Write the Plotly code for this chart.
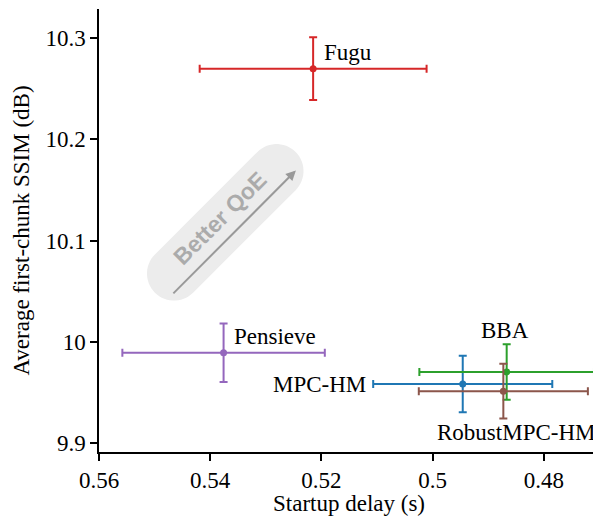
import math
import plotly.graph_objects as go

# startup delay vs first-chunk SSIM, mean +/- error
schemes = ["Fugu", "Pensieve", "MPC-HM", "BBA", "RobustMPC-HM"]
delay = [0.5215, 0.5376, 0.4946, 0.4867, 0.4873]
delay_err = [0.0204, 0.0182, 0.0161, 0.0157, 0.0152]
ssim = [10.270, 9.989, 9.958, 9.970, 9.951]
ssim_err = [0.031, 0.029, 0.028, 0.0275, 0.027]

x_ticks = [0.56, 0.54, 0.52, 0.50, 0.48]
x_ticktext = ["0.56", "0.54", "0.52", "0.5", "0.48"]
y_ticks = [9.9, 10.0, 10.1, 10.2, 10.3]
y_ticktext = ["9.9", "10", "10.1", "10.2", "10.3"]

colors = {"Fugu": "#d62728", "Pensieve": "#9467bd", "MPC-HM": "#1f77b4",
          "BBA": "#2ca02c", "RobustMPC-HM": "#8c564b"}
# label placement relative to the point (pixels)
label_pos = {"Fugu": (9, 16, "left"), "Pensieve": (8, 16, "left"),
             "MPC-HM": (-95, 0, "right"), "BBA": (-2, 41, "center"),
             "RobustMPC-HM": (13, -41, "center")}

serif = "Liberation Serif"
fs = 23

fig = go.Figure()
for i, s in enumerate(schemes):
    c = colors[s]
    fig.add_trace(go.Scatter(
        x=[delay[i]], y=[ssim[i]], mode="markers", name=s,
        marker=dict(color=c, size=7),
        error_x=dict(type="data", array=[delay_err[i]], color=c, thickness=2, width=4),
        error_y=dict(type="data", array=[ssim_err[i]], color=c, thickness=2, width=4),
        showlegend=False,
    ))
    dx, dy, xa = label_pos[s]
    fig.add_annotation(x=delay[i], y=ssim[i], text=s, showarrow=False,
                       xanchor=xa, yanchor="middle", xshift=dx, yshift=dy,
                       font=dict(family=serif, size=fs, color="black"))

# "Better QoE" badge: rounded bar drawn in pixels around an anchor point
L, r, ang = 145.0, 27.0, math.radians(45)
pts = []
for k in range(0, 31):
    t = -math.pi / 2 + math.pi * k / 30
    pts.append((L / 2 + r * math.cos(t), r * math.sin(t)))
for k in range(0, 31):
    t = math.pi / 2 + math.pi * k / 30
    pts.append((-L / 2 + r * math.cos(t), r * math.sin(t)))
rot = [(px * math.cos(ang) - py * math.sin(ang), px * math.sin(ang) + py * math.cos(ang)) for px, py in pts]
path = "M " + " L ".join("%.2f,%.2f" % p for p in rot) + " Z"
fig.add_shape(type="path", path=path, xref="x", yref="y",
              xsizemode="pixel", ysizemode="pixel", xanchor=0.5373, yanchor=10.118,
              fillcolor="#ececec", line=dict(width=0), layer="below")
fig.add_annotation(x=0.5246, y=10.1693, ax=0.5469, ay=10.0462, axref="x", ayref="y",
                   xref="x", yref="y", text="", showarrow=True,
                   arrowhead=2, arrowsize=1, arrowwidth=2, arrowcolor="#999999")
fig.add_annotation(x=0.5382, y=10.122, text="<b>Better QoE</b>", showarrow=False,
                   textangle=-45, font=dict(family="Liberation Sans", size=23, color="#ababab"))

# x title as a paper annotation so it sits where the reference has it
fig.add_annotation(x=0.5, y=-0.117, xref="paper", yref="paper", text="Startup delay (s)",
                   showarrow=False, xanchor="center", yanchor="middle",
                   font=dict(family=serif, size=fs, color="black"))

axis_common = dict(showline=True, linecolor="black", linewidth=1.5, ticks="outside",
                   ticklen=7, tickwidth=1.5, tickcolor="black", showgrid=False, zeroline=False,
                   automargin=False, tickfont=dict(family=serif, size=fs, color="black"))
fig.update_xaxes(range=[0.56, 0.4701], tickvals=x_ticks, ticktext=x_ticktext, **axis_common)
fig.update_yaxes(range=[9.8908, 10.329], tickvals=y_ticks, ticktext=y_ticktext,
                 title=dict(text="Average first-chunk SSIM (dB)", font=dict(family=serif, size=fs, color="black"), standoff=9),
                 **axis_common)
# page body adds an 8px offset, so margins are shifted to compensate
fig.update_layout(width=601, height=516, margin=dict(l=91, r=10, t=1, b=72),
                  plot_bgcolor="white", paper_bgcolor="white")
fig.write_html("out.html")
